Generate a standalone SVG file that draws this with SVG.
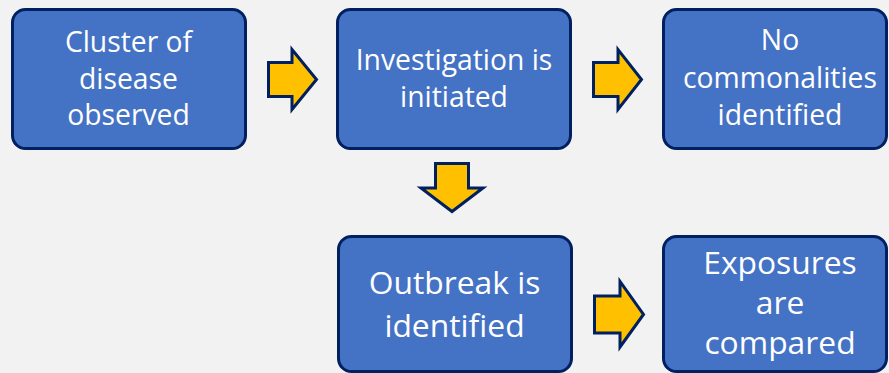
<svg xmlns="http://www.w3.org/2000/svg" width="889" height="373" viewBox="0 0 889 373">
  <style>
    .box { fill: #4472C4; stroke: #002060; stroke-width: 3; }
    .arrow { fill: #FFC000; stroke: #002060; stroke-width: 3; stroke-linejoin: miter; }
    .lbl { fill: #FFFFFF; font-family: "Open Sans", "Noto Sans", sans-serif; text-anchor: middle; }
    .top { font-size: 28.3px; }
    .bot { font-size: 31.8px; }
  </style>
  <rect width="889" height="373" fill="#F2F2F2"/>

  <g id="connectors">
    <polygon class="arrow" points="268.5,62.5 292,62.5 292,49.5 316.5,79.5 292,109.5 292,96.5 268.5,96.5"/>
    <polygon class="arrow" points="593.5,62.5 618,62.5 618,49.5 641.5,79.5 618,109.5 618,96.5 593.5,96.5"/>
    <polygon class="arrow" points="435.5,163.5 468.5,163.5 468.5,188 483,188 452,211.5 421,188 435.5,188"/>
    <polygon class="arrow" points="594.5,296 620,296 620,281.5 643.5,314.5 620,347 620,333 594.5,333"/>
  </g>

  <g id="cluster">
    <rect class="box" x="12.5" y="9.5" width="233" height="139" rx="13"/>
    <text class="lbl top"><tspan x="128.5" y="52">Cluster of</tspan><tspan x="128.5" y="88.5">disease</tspan><tspan x="128.5" y="125">observed</tspan></text>
  </g>

  <g id="investigation">
    <rect class="box" x="337.5" y="9.5" width="233" height="139" rx="13"/>
    <text class="lbl top"><tspan x="454" y="70">Investigation is</tspan><tspan x="454" y="107">initiated</tspan></text>
  </g>

  <g id="no-commonalities">
    <rect class="box" x="663.5" y="9.5" width="223" height="139" rx="13"/>
    <text class="lbl top"><tspan x="780" y="50">No</tspan><tspan x="780" y="87.5">commonalities</tspan><tspan x="780" y="125">identified</tspan></text>
  </g>

  <g id="outbreak">
    <rect class="box" x="338.5" y="236.5" width="233" height="135" rx="13"/>
    <text class="lbl bot"><tspan x="454.5" y="294">Outbreak is</tspan><tspan x="454.5" y="337">identified</tspan></text>
  </g>

  <g id="exposures">
    <rect class="box" x="663.5" y="236.5" width="223" height="135" rx="13"/>
    <text class="lbl bot"><tspan x="780" y="274">Exposures</tspan><tspan x="780" y="314">are</tspan><tspan x="780" y="354">compared</tspan></text>
  </g>
</svg>
